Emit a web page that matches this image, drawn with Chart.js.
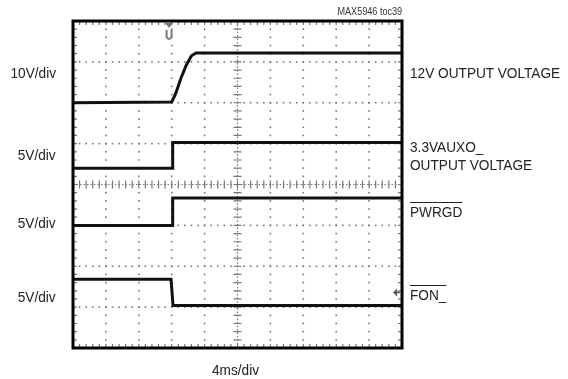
<!DOCTYPE html>
<html>
<head>
<meta charset="utf-8">
<script src="https://cdn.jsdelivr.net/npm/chart.js@4/dist/chart.umd.min.js"></script>
<style>
  body { margin: 0; background: #fff; }
  #wrap { position: relative; width: 568px; height: 379px; }
  canvas { position: absolute; left: 0; top: 0; }
  .lbl { position: absolute; font-family: "Liberation Sans", Arimo, sans-serif; font-size: 15px; color: #222; white-space: nowrap; line-height: 18px; transform: scaleX(0.91); transform-origin: left top; }
  .r { transform-origin: right top; }
  .ol { text-decoration: overline; }
</style>
</head>
<body>
<div id="wrap">
  <canvas id="scope" width="568" height="379"></canvas>
  <div class="lbl r" style="right:166px;top:6px;font-size:10px;line-height:12px;color:#333;">MAX5946 toc39</div>
  <div class="lbl r" style="right:512px;top:64px;">10V/div</div>
  <div class="lbl r" style="right:512px;top:146px;">5V/div</div>
  <div class="lbl r" style="right:512px;top:214px;">5V/div</div>
  <div class="lbl r" style="right:512px;top:288px;">5V/div</div>
  <div class="lbl" style="left:410px;top:64px;">12V OUTPUT VOLTAGE</div>
  <div class="lbl" style="left:410px;top:138px;">3.3VAUXO_<br>OUTPUT VOLTAGE</div>
  <div class="lbl ol" style="left:410px;top:203px;">PWRGD</div>
  <div class="lbl ol" style="left:410px;top:286px;">FON_</div>
  <div class="lbl" style="left:212px;top:361px;">4ms/div</div>
</div>
<script>
// screen is 10 x 8 divisions, traces in divisions from the bottom
const v12X = [0, 3.0, 3.12, 3.28, 3.45, 3.6, 3.74, 10];
const v12Y = [6.0, 6.02, 6.22, 6.6, 6.93, 7.15, 7.22, 7.22];
const auxX = [0, 3.03, 3.03, 10];
const auxY = [4.4, 4.4, 5.03, 5.03];
const pwrgdX = [0, 3.03, 3.03, 10];
const pwrgdY = [3.0, 3.0, 3.67, 3.67];
const fonX = [0, 2.98, 3.04, 10];
const fonY = [1.68, 1.68, 1.04, 1.04];

const divsX = 10, divsY = 8, minor = 5;

function pts(xs, ys) {
    return xs.map((x, i) => ({ x: x, y: ys[i] }));
}

function trace(xs, ys) {
    return {
        data: pts(xs, ys),
        borderColor: '#111',
        borderWidth: 3,
        pointRadius: 0,
        tension: 0,
        fill: false
    };
}

// graticule drawn from the chart's own scales
const graticule = {
    id: 'graticule',
    beforeDatasetsDraw(chart) {
        const ctx = chart.ctx;
        const sx = chart.scales.x, sy = chart.scales.y;
        const px = v => sx.getPixelForValue(v);
        const py = v => sy.getPixelForValue(v);
        ctx.save();
        ctx.fillStyle = '#777';
        // dotted vertical lines
        for (let i = 1; i < divsX; i++) {
            if (i === divsX / 2) continue;
            for (let j = 0; j <= divsY * minor; j++) {
                ctx.fillRect(px(i) - 0.8, py(j / minor) - 0.8, 1.6, 1.6);
            }
        }
        // dotted horizontal lines
        for (let j = 1; j < divsY; j++) {
            if (j === divsY / 2) continue;
            for (let i = 0; i <= divsX * minor; i++) {
                ctx.fillRect(px(i / minor) - 0.8, py(j) - 0.8, 1.6, 1.6);
            }
        }
        // centre axes with ticks
        ctx.strokeStyle = '#777';
        ctx.lineWidth = 1.2;
        ctx.beginPath();
        for (let i = 0; i <= divsX * minor; i++) {
            const x = px(i / minor);
            ctx.moveTo(x, py(divsY / 2) - 4);
            ctx.lineTo(x, py(divsY / 2) + 4);
        }
        for (let j = 0; j <= divsY * minor; j++) {
            const y = py(j / minor);
            ctx.moveTo(px(divsX / 2) - 4, y);
            ctx.lineTo(px(divsX / 2) + 4, y);
        }
        ctx.stroke();
        ctx.setLineDash([1.5, 2]);
        ctx.beginPath();
        ctx.moveTo(px(0), py(divsY / 2));
        ctx.lineTo(px(divsX), py(divsY / 2));
        ctx.moveTo(px(divsX / 2), py(0));
        ctx.lineTo(px(divsX / 2), py(divsY));
        ctx.stroke();
        ctx.setLineDash([]);
        // border ticks
        ctx.beginPath();
        for (let i = 0; i <= divsX * minor; i++) {
            const x = px(i / minor);
            ctx.moveTo(x, py(divsY)); ctx.lineTo(x, py(divsY) + 4);
            ctx.moveTo(x, py(0)); ctx.lineTo(x, py(0) - 4);
        }
        for (let j = 0; j <= divsY * minor; j++) {
            const y = py(j / minor);
            ctx.moveTo(px(0), y); ctx.lineTo(px(0) + 4, y);
            ctx.moveTo(px(divsX), y); ctx.lineTo(px(divsX) - 4, y);
        }
        ctx.stroke();
        ctx.restore();
    },
    afterDatasetsDraw(chart) {
        const ctx = chart.ctx;
        const sx = chart.scales.x, sy = chart.scales.y;
        const a = chart.chartArea;
        ctx.save();
        // trigger marker
        const tx = sx.getPixelForValue(2.92);
        ctx.fillStyle = '#777';
        ctx.beginPath();
        ctx.moveTo(tx - 4, a.top + 2); ctx.lineTo(tx + 4, a.top + 2); ctx.lineTo(tx, a.top + 7);
        ctx.fill();
        ctx.strokeStyle = '#777';
        ctx.lineWidth = 2;
        ctx.beginPath();
        ctx.moveTo(tx - 2.5, a.top + 9);
        ctx.lineTo(tx - 2.5, a.top + 16);
        ctx.quadraticCurveTo(tx, a.top + 20, tx + 2.5, a.top + 16);
        ctx.lineTo(tx + 2.5, a.top + 9);
        ctx.stroke();
        // ground marker for FON_
        const gx = sx.getPixelForValue(9.82), gy = sy.getPixelForValue(1.36);
        ctx.fillStyle = '#555';
        ctx.beginPath();
        ctx.moveTo(gx - 3, gy); ctx.lineTo(gx + 1, gy - 4); ctx.lineTo(gx + 1, gy + 4);
        ctx.fill();
        ctx.fillRect(gx, gy - 0.8, 4, 1.6);
        // frame
        ctx.strokeStyle = '#000';
        ctx.lineWidth = 3;
        ctx.strokeRect(a.left, a.top, a.right - a.left, a.bottom - a.top);
        ctx.restore();
    }
};

new Chart(document.getElementById('scope').getContext('2d'), {
    type: 'line',
    data: {
        datasets: [
            trace(v12X, v12Y),
            trace(auxX, auxY),
            trace(pwrgdX, pwrgdY),
            trace(fonX, fonY)
        ]
    },
    options: {
        responsive: false,
        animation: false,
        layout: { padding: { left: 73, top: 21, right: 166, bottom: 31 } },
        scales: {
            x: { type: 'linear', min: 0, max: divsX, display: false },
            y: { type: 'linear', min: 0, max: divsY, display: false }
        },
        plugins: {
            legend: { display: false },
            tooltip: { enabled: false }
        }
    },
    plugins: [graticule]
});
</script>
</body>
</html>
